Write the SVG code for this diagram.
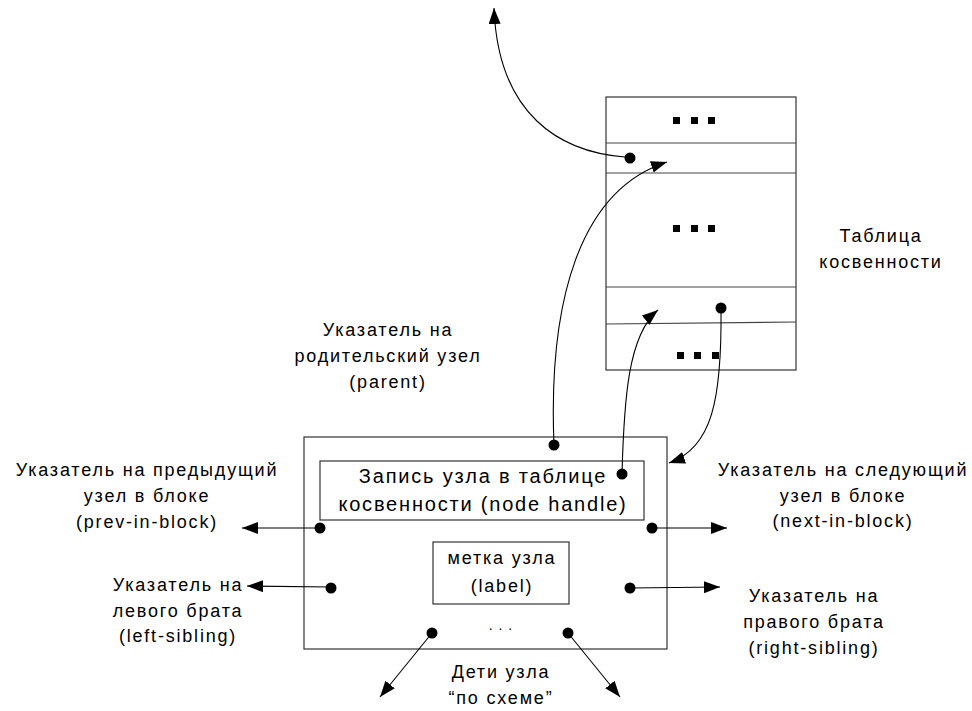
<svg xmlns="http://www.w3.org/2000/svg" width="972" height="711" viewBox="0 0 972 711">
<style>
text{font-family:"Liberation Sans",Arial,sans-serif;font-size:18px;letter-spacing:1.8px;fill:#000;text-anchor:middle}
.big{font-size:20px;letter-spacing:1.8px}
.box{fill:none;stroke:#333;stroke-width:1.2}
.ln{fill:none;stroke:#000;stroke-width:1.1}
.tl{stroke:#444;stroke-width:1.2}
.sq{fill:#000}
</style>
<defs>
<marker id="ah" markerUnits="userSpaceOnUse" markerWidth="18" markerHeight="14" refX="16" refY="6" orient="auto">
<path d="M0,0 L16,6 L0,12 Z" fill="#000"/>
</marker>
</defs>
<rect width="972" height="711" fill="#fff"/>

<g id="table">
<rect class="box" x="606" y="97" width="190" height="273"/>
<line class="tl" x1="606" y1="143" x2="796" y2="143"/>
<line class="tl" x1="606" y1="173" x2="796" y2="173"/>
<line class="tl" x1="606" y1="287" x2="796" y2="287"/>
<line class="tl" x1="606" y1="324" x2="796" y2="322"/>
<rect class="sq" x="673" y="117" width="7" height="7"/><rect class="sq" x="691" y="117" width="7" height="7"/><rect class="sq" x="708" y="117" width="7" height="7"/>
<rect class="sq" x="673" y="225" width="7" height="7"/><rect class="sq" x="691" y="225" width="7" height="7"/><rect class="sq" x="708" y="225" width="7" height="7"/>
<rect class="sq" x="677" y="352" width="7" height="7"/><rect class="sq" x="694" y="352" width="7" height="7"/><rect class="sq" x="712" y="352" width="7" height="7"/>
<circle cx="630" cy="158" r="5.5"/>
<circle cx="721" cy="308" r="5.5"/>
<text x="881" y="242">Таблица</text>
<text x="881" y="268">косвенности</text>
</g>

<g id="node">
<rect class="box" x="304" y="437" width="363" height="212"/>
<rect class="box" x="320" y="461" width="324" height="59"/>
<text class="big" x="483" y="483">Запись узла в таблице</text>
<text class="big" x="483" y="511">косвенности (node handle)</text>
<rect class="box" x="433" y="542" width="136" height="62"/>
<text x="502" y="564">метка узла</text>
<text x="502" y="592">(label)</text>
<text x="501" y="630" style="font-size:14px;letter-spacing:1px">. . .</text>
<circle cx="554" cy="445" r="5.5"/>
<circle cx="622" cy="474" r="5.5"/>
<circle cx="320" cy="528" r="5.5"/>
<circle cx="652" cy="528" r="5.5"/>
<circle cx="331" cy="588" r="5.5"/>
<circle cx="630" cy="588" r="5.5"/>
<circle cx="432" cy="633" r="5.5"/>
<circle cx="568" cy="633" r="5.5"/>
</g>

<g id="labels">
<text x="388" y="336">Указатель на</text>
<text x="388" y="362">родительский узел</text>
<text x="388" y="388">(parent)</text>
<text x="147" y="476">Указатель на предыдущий</text>
<text x="147" y="502">узел в блоке</text>
<text x="147" y="528">(prev-in-block)</text>
<text x="178" y="591">Указатель на</text>
<text x="178" y="617">левого брата</text>
<text x="178" y="642">(left-sibling)</text>
<text x="843" y="476">Указатель на следующий</text>
<text x="843" y="502">узел в блоке</text>
<text x="843" y="527">(next-in-block)</text>
<text x="814" y="602">Указатель на</text>
<text x="814" y="628">правого брата</text>
<text x="814" y="654">(right-sibling)</text>
<text x="501" y="678">Дети узла</text>
<text x="501" y="704">“по схеме”</text>
</g>

<g id="connectors">
<path class="ln" d="M625,157 C560,152 498,115 494,8" marker-end="url(#ah)"/>
<path class="ln" d="M554,445 C548,300 580,190 667,162" marker-end="url(#ah)"/>
<path class="ln" d="M622,474 C624,400 628,335 658,310" marker-end="url(#ah)"/>
<path class="ln" d="M721,308 C722,400 712,448 669,463" marker-end="url(#ah)"/>
<line class="ln" x1="320" y1="528" x2="242" y2="528" marker-end="url(#ah)"/>
<line class="ln" x1="331" y1="587" x2="247" y2="586" marker-end="url(#ah)"/>
<line class="ln" x1="652" y1="528" x2="727" y2="528" marker-end="url(#ah)"/>
<line class="ln" x1="630" y1="588" x2="720" y2="587" marker-end="url(#ah)"/>
<line class="ln" x1="432" y1="633" x2="380" y2="697" marker-end="url(#ah)"/>
<line class="ln" x1="568" y1="633" x2="620" y2="697" marker-end="url(#ah)"/>
</g>
</svg>
